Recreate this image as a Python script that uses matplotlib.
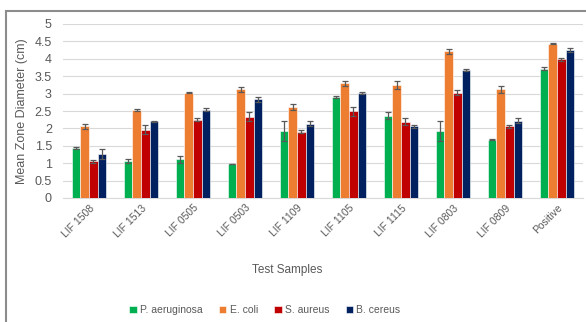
import matplotlib
matplotlib.use("Agg")
import matplotlib.pyplot as plt
import numpy as np
from matplotlib.patches import Rectangle

plt.rcParams['font.family'] = ['Liberation Sans', 'DejaVu Sans']

categories = ["LIF 1508", "LIF 1513", "LIF 0505", "LIF 0503", "LIF 1109",
              "LIF 1105", "LIF 1115", "LIF 0803", "LIF 0809", "Positive"]
series_names = ["P. aeruginosa", "E. coli", "S. aureus", "B. cereus"]
p_aeruginosa = [1.44, 1.07, 1.12, 0.98, 1.93, 2.90, 2.36, 1.93, 1.68, 3.71]
e_coli       = [2.06, 2.54, 3.03, 3.13, 2.61, 3.30, 3.25, 4.21, 3.13, 4.43]
s_aureus     = [1.05, 1.96, 2.25, 2.33, 1.91, 2.49, 2.19, 3.03, 2.06, 3.99]
b_cereus     = [1.26, 2.20, 2.54, 2.84, 2.13, 3.02, 2.06, 3.67, 2.22, 4.26]
err_p = [0.02, 0.05, 0.10, 0.00, 0.29, 0.03, 0.10, 0.29, 0.02, 0.04]
err_e = [0.07, 0.03, 0.02, 0.07, 0.08, 0.07, 0.12, 0.08, 0.10, 0.01]
err_s = [0.05, 0.13, 0.05, 0.13, 0.03, 0.13, 0.10, 0.07, 0.05, 0.04]
err_b = [0.15, 0.02, 0.04, 0.07, 0.07, 0.02, 0.05, 0.03, 0.07, 0.06]
colors = ["#00B050", "#ED7D31", "#C00000", "#002060"]

values = [p_aeruginosa, e_coli, s_aureus, b_cereus]
errors = [err_p, err_e, err_s, err_b]

fig = plt.figure(figsize=(5.86, 3.22), dpi=100)
ax = fig.add_axes([63/586, 1-198/322, (583-63)/586, (198-24)/322])

x = np.arange(len(categories))
w = 0.16
step = 0.168
for i, (vals, errs, c, name) in enumerate(zip(values, errors, colors, series_names)):
    pos = x + (i - 1.5) * step
    ax.bar(pos, vals, width=w, color=c, label=name, edgecolor='white', linewidth=0.4, zorder=3)
    ax.errorbar(pos, vals, yerr=errs, fmt='none', ecolor='#595959', elinewidth=0.9,
                capsize=2.5, capthick=0.9, zorder=4)

ax.set_xlim(-0.5, len(categories) - 0.5)
ax.set_ylim(0, 5)
ax.set_yticks(np.arange(0, 5.01, 0.5))
ax.set_yticklabels(["0", "0.5", "1", "1.5", "2", "2.5", "3", "3.5", "4", "4.5", "5"])
ax.grid(axis='y', color='#d9d9d9', linewidth=0.8, zorder=0)
for s in ['top', 'right', 'left']:
    ax.spines[s].set_visible(False)
ax.spines['bottom'].set_color('#d9d9d9')
ax.tick_params(axis='both', length=0, colors='#595959', labelsize=9)
ax.tick_params(axis='y', pad=8)
ax.set_xticks(x)
ax.set_xticklabels(categories, rotation=45, ha='right', rotation_mode='anchor', fontsize=7.5)
ax.set_ylabel("Mean Zone Diameter (cm)", color='#595959', fontsize=9)
ax.yaxis.set_label_coords((28-63)/520, 0.5)

fig.text(287/586, 1-270/322, "Test Samples", color='#595959', fontsize=8.5,
         ha='center', va='center')

handles, labels = ax.get_legend_handles_labels()
fig.legend(handles, labels, loc='center', bbox_to_anchor=(265/586, 1-310/322), ncol=4,
           frameon=False, fontsize=7.5, handlelength=0.7, handleheight=0.7,
           handletextpad=0.3, columnspacing=1.6, labelcolor='#595959')

fig.patches.append(Rectangle((6/586, -0.1), 1.2, (322-11)/322 + 0.1, transform=fig.transFigure,
                             fill=False, edgecolor='#8c8c8c', linewidth=1.5))

fig.savefig("out.png", dpi=100)
